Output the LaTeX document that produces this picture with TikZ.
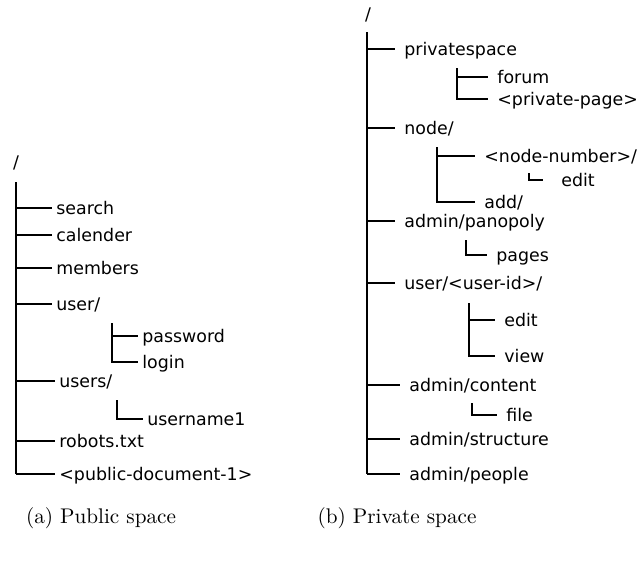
\documentclass[tikz,border=0pt]{standalone}
\usepackage{fontspec}
\usepackage{tikz}
\newfontfamily\dejavu{DejaVu Sans}

\tikzset{
  leaf/.style={anchor=west, inner ysep=0pt, inner xsep=2pt, text height=6.5pt, text depth=0pt,
    font=\dejavu\fontsize{8.7}{10}\selectfont},
  rleaf/.style={leaf, inner xsep=4.5pt},
  trunk/.style={line width=1.2pt},
  twig/.style={line width=0.55pt},
}

\begin{document}
\begin{tikzpicture}[x=0.5pt, y=-0.5pt]
    \useasboundingbox (0,0) rectangle (638,563);

    % public space
    \node[font=\dejavu\fontsize{8.7}{10}\selectfont] (lroot) at (16,163) {/};
    \coordinate (ltop) at (16,182);
    \node[leaf] (search) at (52,208) {search};
    \node[leaf] (calender) at (52,235) {calender};
    \node[leaf] (members) at (52,268) {members};
    \node[leaf] (user) at (52,304) {user/};
    \node[leaf] (password) at (138,336) {password};
    \node[leaf] (login) at (138,362) {login};
    \node[leaf] (users) at (55,381) {users/};
    \node[leaf] (username) at (143,419) {username1};
    \node[leaf] (robots) at (55,441) {robots.txt};
    \node[leaf] (pubdoc) at (55,474) {<public-document-1>};

    \draw[trunk] (ltop) -- (ltop |- pubdoc.west);
    \draw[twig] (search.west -| ltop) -- (search.west);
    \draw[twig] (calender.west -| ltop) -- (calender.west);
    \draw[twig] (members.west -| ltop) -- (members.west);
    \draw[twig] (user.west -| ltop) -- (user.west);
    \draw[twig] (users.west -| ltop) -- (users.west);
    \draw[twig] (robots.west -| ltop) -- (robots.west);
    \draw[twig] (pubdoc.west -| ltop) -- (pubdoc.west);

    \coordinate (usertop) at (112,323);
    \draw[twig] (usertop) |- (login.west);
    \draw[twig] (usertop |- password.west) -- (password.west);
    \coordinate (userstop) at (117,400);
    \draw[twig] (userstop) |- (username.west);

    % private space
    \node[font=\dejavu\fontsize{8.7}{10}\selectfont] (rroot) at (368,15) {/};
    \coordinate (rtop) at (367,32);
    \node[rleaf] (privspace) at (395,49) {privatespace};
    \node[rleaf] (forum) at (488,77) {forum};
    \node[rleaf] (privpage) at (488,99) {<private-page>};
    \node[rleaf] (node) at (395,128) {node/};
    \node[rleaf] (nodenum) at (475,156) {<node-number>/};
    \node[rleaf, inner xsep=9pt] (nodeedit) at (543,180) {edit};
    \node[rleaf] (add) at (475,202) {add/};
    \node[rleaf] (panopoly) at (395,221) {admin/panopoly};
    \node[rleaf] (pages) at (487,255) {pages};
    \node[rleaf] (userid) at (395,283) {user/<user-id>/};
    \node[rleaf] (useredit) at (495,320) {edit};
    \node[rleaf] (userview) at (495,356) {view};
    \node[rleaf] (content) at (400,385) {admin/content};
    \node[rleaf] (file) at (497,415) {file};
    \node[rleaf] (structure) at (400,439) {admin/structure};
    \node[rleaf] (people) at (400,474) {admin/people};

    \draw[trunk] (rtop) -- (rtop |- people.west);
    \draw[twig] (privspace.west -| rtop) -- (privspace.west);
    \draw[twig] (node.west -| rtop) -- (node.west);
    \draw[twig] (panopoly.west -| rtop) -- (panopoly.west);
    \draw[twig] (userid.west -| rtop) -- (userid.west);
    \draw[twig] (content.west -| rtop) -- (content.west);
    \draw[twig] (structure.west -| rtop) -- (structure.west);
    \draw[twig] (people.west -| rtop) -- (people.west);

    \coordinate (privtop) at (457,68);
    \draw[twig] (privtop) |- (privpage.west);
    \draw[twig] (privtop |- forum.west) -- (forum.west);
    \coordinate (nodetop) at (437,147);
    \draw[twig] (nodetop) |- (add.west);
    \draw[twig] (nodetop |- nodenum.west) -- (nodenum.west);
    \coordinate (numtop) at (529,173);
    \draw[twig] (numtop) |- (nodeedit.west);
    \coordinate (panotop) at (466,240);
    \draw[twig] (panotop) |- (pages.west);
    \coordinate (uidtop) at (469,303);
    \draw[twig] (uidtop) |- (userview.west);
    \draw[twig] (uidtop |- useredit.west) -- (useredit.west);
    \coordinate (contop) at (472,403);
    \draw[twig] (contop) |- (file.west);

    % captions
    \node[anchor=base, font=\fontsize{10.6}{12}\selectfont] (capa) at (101,523) {(a) Public space};
    \node[anchor=base, font=\fontsize{10.6}{12}\selectfont] (capb) at (397,523) {(b) Private space};
\end{tikzpicture}
\end{document}
